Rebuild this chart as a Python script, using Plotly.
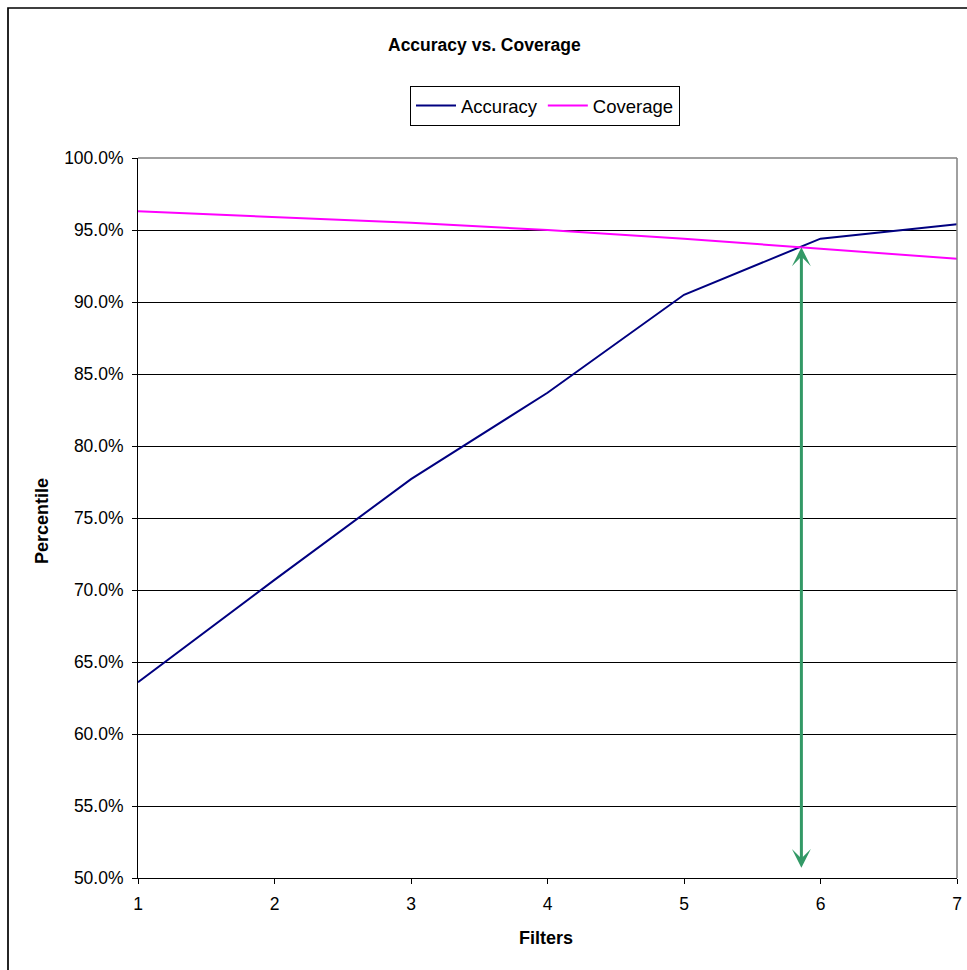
import plotly.graph_objects as go

# Number of filters applied
filters = [1, 2, 3, 4, 5, 6, 7]

# Percentile scores for each filter count
accuracy = [0.636, 0.707, 0.777, 0.837, 0.905, 0.944, 0.954]
coverage = [0.963, 0.959, 0.955, 0.950, 0.944, 0.937, 0.930]

# Marker showing where the two curves cross
arrow_x = 5.86
arrow_top = 0.938
arrow_bottom = 0.506

y_ticks = [0.50, 0.55, 0.60, 0.65, 0.70, 0.75, 0.80, 0.85, 0.90, 0.95, 1.00]

FONT = "Liberation Sans, Arial, sans-serif"

fig = go.Figure()
fig.add_trace(go.Scatter(x=filters, y=accuracy, mode="lines", name="Accuracy",
                         line=dict(color="#000080", width=2)))
fig.add_trace(go.Scatter(x=filters, y=coverage, mode="lines", name="Coverage",
                         line=dict(color="#FF00FF", width=2)))

L, R, T, B = 138, 10, 158, 92
W, H = 967, 970
pw, ph = W - L - R, H - T - B

def px_x(px):
    return (px - L) / pw

def px_y(py):
    return (H - B - py) / ph

fig.update_layout(
    width=W, height=H,
    margin=dict(l=L, r=R, t=T, b=B, pad=0, autoexpand=False),
    paper_bgcolor="white", plot_bgcolor="white",
    font=dict(family=FONT, size=17.5, color="black"),
    showlegend=True,
    legend=dict(orientation="h", x=px_x(545), y=px_y(86), xanchor="center", yanchor="top",
                bordercolor="black", borderwidth=1, bgcolor="white",
                font=dict(family=FONT, size=18.5, color="black"),
                itemwidth=40, tracegroupgap=0),
    xaxis=dict(range=[1, 7], tickvals=filters, showgrid=False, zeroline=False,
               automargin=False,
               showline=True, linecolor="black", linewidth=1,
               ticks="outside", ticklen=5, tickcolor="black",
               ticklabelstandoff=5,
               tickfont=dict(family=FONT, size=17.5)),
    yaxis=dict(range=[0.5, 1.0], tickvals=y_ticks, tickformat=".1%",
               showgrid=True, gridcolor="black", gridwidth=1, zeroline=False,
               automargin=False,
               showline=True, linecolor="black", linewidth=1,
               ticks="outside", ticklen=5, tickcolor="black",
               ticklabelstandoff=5,
               tickfont=dict(family=FONT, size=17.5)),
    shapes=[
        # plot area frame (top and right edges)
        dict(type="line", xref="paper", yref="paper", x0=0, x1=1, y0=1, y1=1,
             line=dict(color="#808080", width=1.5), layer="above"),
        dict(type="line", xref="paper", yref="paper", x0=1, x1=1, y0=0, y1=1,
             line=dict(color="#808080", width=1.5), layer="above"),
        # chart area border
        dict(type="rect", xref="paper", yref="paper",
             x0=px_x(8), x1=px_x(1100), y0=px_y(1100), y1=px_y(8),
             line=dict(color="black", width=1.7), fillcolor="rgba(0,0,0,0)", layer="above"),
    ],
    annotations=[
        dict(text="<b>Accuracy vs. Coverage</b>", xref="paper", yref="paper",
             x=px_x(484), y=px_y(45), xanchor="center", yanchor="middle",
             showarrow=False, font=dict(family=FONT, size=17.5)),
        dict(text="<b>Percentile</b>", xref="paper", yref="paper",
             x=px_x(42), y=px_y(521), xanchor="center", yanchor="middle",
             textangle=-90, showarrow=False, font=dict(family=FONT, size=18)),
        dict(text="<b>Filters</b>", xref="paper", yref="paper",
             x=px_x(546), y=px_y(938), xanchor="center", yanchor="middle",
             showarrow=False, font=dict(family=FONT, size=18)),
        dict(text="", x=arrow_x, y=arrow_top, xref="x", yref="y",
             ax=arrow_x, ay=arrow_bottom, axref="x", ayref="y",
             showarrow=True, arrowside="end+start",
             arrowhead=3, startarrowhead=3, arrowsize=1.05, startarrowsize=1.05,
             arrowwidth=3, arrowcolor="#339966", standoff=0, startstandoff=0),
    ],
)

fig.write_html("out.html")
